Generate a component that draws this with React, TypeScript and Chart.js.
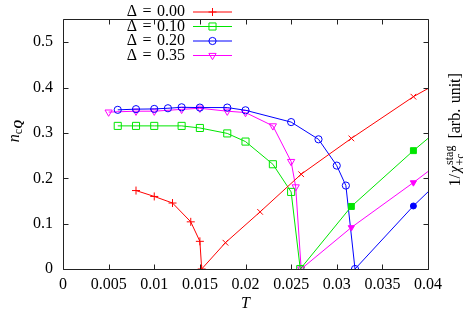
import React, { useEffect, useRef } from 'react';
import { Chart, registerables } from 'chart.js';
import { drawPoint } from 'chart.js/helpers';

Chart.register(...registerables);

// ---- axis ticks ----
const xTickValues = [0, 0.005, 0.01, 0.015, 0.02, 0.025, 0.03, 0.035, 0.04];
const xTickLabels = ['0', '0.005', '0.01', '0.015', '0.02', '0.025', '0.03', '0.035', '0.04'];
const yTickValues = [0, 0.1, 0.2, 0.3, 0.4, 0.5];
const yTickLabels = ['0', '0.1', '0.2', '0.3', '0.4', '0.5'];

// ---- legend labels ----
const seriesLabels = ['Δ = 0.00', 'Δ = 0.10', 'Δ = 0.20', 'Δ = 0.35'];

// ---- n_cQ vs T (left axis) ----
const tD000 = [0.008, 0.010, 0.012, 0.014, 0.015, 0.0152];
const nD000 = [0.173, 0.160, 0.1455, 0.104, 0.061, 0];
const tD010 = [0.006, 0.008, 0.010, 0.013, 0.015, 0.018, 0.020, 0.023, 0.025, 0.026];
const nD010 = [0.3156, 0.3156, 0.3156, 0.3156, 0.311, 0.299, 0.281, 0.231, 0.170, 0];
const tD020 = [0.006, 0.008, 0.010, 0.0115, 0.013, 0.015, 0.018, 0.020, 0.025, 0.028, 0.030, 0.031, 0.032];
const nD020 = [0.351, 0.3525, 0.353, 0.3545, 0.3566, 0.356, 0.356, 0.350, 0.324, 0.286, 0.228, 0.184, 0];
const tD035 = [0.005, 0.008, 0.010, 0.013, 0.015, 0.018, 0.020, 0.023, 0.025, 0.0255, 0.0261];
const nD035 = [0.346, 0.348, 0.348, 0.352, 0.3545, 0.348, 0.345, 0.3156, 0.237, 0.181, 0];

// ---- 1/chi_stag vs T (right axis, arb. unit) ----
const tChiD000 = [0.0152, 0.0178, 0.0216, 0.0261, 0.0316, 0.0384, 0.04];
const chiD000 = [0, 0.058, 0.126, 0.209, 0.288, 0.380, 0.398];
const tChiD010 = [0.026, 0.0316, 0.0384, 0.04];
const chiD010 = [0, 0.138, 0.261, 0.288];
const tChiD020 = [0.032, 0.0384, 0.04];
const chiD020 = [0, 0.139, 0.170];
const tChiD035 = [0.0261, 0.0316, 0.0384, 0.04];
const chiD035 = [0, 0.0916, 0.1906, 0.215];

const RED = '#ff0000';
const GREEN = '#00e600';
const BLUE = '#0000ff';
const MAGENTA = '#ff00ff';
const FONT = 'Liberation Serif';
const FS = 16;

const zip = (xs: number[], ys: number[]) => xs.map((x, i) => ({ x, y: ys[i] }));

type MarkerStyle = { pointStyle: string; radius: number; rotation: number; filled: boolean };
const leftMarkers: MarkerStyle[] = [
  { pointStyle: 'cross', radius: 4, rotation: 0, filled: false },
  { pointStyle: 'rect', radius: 5, rotation: 0, filled: false },
  { pointStyle: 'circle', radius: 3.6, rotation: 0, filled: false },
  { pointStyle: 'triangle', radius: 4.2, rotation: 180, filled: false },
];
const rightMarkers: MarkerStyle[] = [
  { pointStyle: 'crossRot', radius: 4, rotation: 0, filled: true },
  { pointStyle: 'rect', radius: 4.2, rotation: 0, filled: true },
  { pointStyle: 'circle', radius: 3, rotation: 0, filled: true },
  { pointStyle: 'triangle', radius: 3.6, rotation: 180, filled: true },
];
const colors = [RED, GREEN, BLUE, MAGENTA];

function leftDataset(i: number, xs: number[], ys: number[]) {
  const m = leftMarkers[i];
  return {
    label: seriesLabels[i],
    data: zip(xs, ys),
    yAxisID: 'y',
    borderColor: colors[i],
    backgroundColor: colors[i],
    borderWidth: 1,
    pointStyle: m.pointStyle,
    pointRadius: m.radius,
    pointRotation: m.rotation,
    pointBorderColor: colors[i],
    pointBackgroundColor: 'rgba(0,0,0,0)',
    pointBorderWidth: 1,
    tension: 0,
    showLine: true,
  };
}

function rightDataset(i: number, xs: number[], ys: number[]) {
  const m = rightMarkers[i];
  const n = xs.length;
  return {
    label: seriesLabels[i] + ' (1/χ)',
    data: zip(xs, ys),
    yAxisID: 'y2',
    borderColor: colors[i],
    backgroundColor: colors[i],
    borderWidth: 1,
    pointStyle: m.pointStyle,
    pointRadius: (ctx: any) => (ctx.dataIndex === 0 || ctx.dataIndex === n - 1 ? 0 : m.radius),
    pointRotation: m.rotation,
    pointBorderColor: colors[i],
    pointBackgroundColor: colors[i],
    pointBorderWidth: 1,
    tension: 0,
    showLine: true,
  };
}

const decorPlugin = {
  id: 'decor',
  afterDatasetsDraw(chart: any) {
    const { ctx, chartArea } = chart;
    const x = chart.scales.x;
    const y = chart.scales.y;
    const L = Math.floor(chartArea.left) + 0.5;
    const R = Math.floor(chartArea.right) + 0.5;
    const T = Math.floor(chartArea.top) + 0.5;
    const B = Math.floor(chartArea.bottom) + 0.5;
    const tl = 5;
    ctx.save();
    ctx.strokeStyle = '#222';
    ctx.lineWidth = 1;
    ctx.beginPath();
    ctx.rect(L, T, R - L, B - T);
    xTickValues.forEach((v) => {
      const px = Math.round(x.getPixelForValue(v)) + 0.5;
      ctx.moveTo(px, B);
      ctx.lineTo(px, B - tl);
      ctx.moveTo(px, T);
      ctx.lineTo(px, T + tl);
    });
    yTickValues.forEach((v) => {
      const py = Math.round(y.getPixelForValue(v)) + 0.5;
      ctx.moveTo(L, py);
      ctx.lineTo(L + tl, py);
      ctx.moveTo(R, py);
      ctx.lineTo(R - tl, py);
    });
    ctx.stroke();
    ctx.restore();
  },
  afterDraw(chart: any) {
    const { ctx, chartArea } = chart;
    ctx.save();
    // ---- legend ----
    const rowsY = [12, 26.5, 41, 55.5];
    const textRight = 185;
    const sx0 = 193;
    const sx1 = 232;
    seriesLabels.forEach((lab, i) => {
      const yy = rowsY[i];
      ctx.fillStyle = '#000';
      ctx.font = `${FS}px "${FONT}"`;
      (ctx as any).wordSpacing = '1.5px';
      ctx.textAlign = 'right';
      ctx.textBaseline = 'middle';
      ctx.fillText(lab, textRight, yy);
      (ctx as any).wordSpacing = '0px';
      ctx.strokeStyle = colors[i];
      ctx.lineWidth = 1;
      ctx.beginPath();
      ctx.moveTo(sx0, yy);
      ctx.lineTo(sx1, yy);
      ctx.stroke();
      const m = leftMarkers[i];
      ctx.fillStyle = 'rgba(0,0,0,0)';
      drawPoint(ctx, { pointStyle: m.pointStyle as any, radius: m.radius, rotation: m.rotation, borderWidth: 1 } as any, (sx0 + sx1) / 2, yy);
    });

    // ---- x title ----
    ctx.fillStyle = '#000';
    ctx.textAlign = 'center';
    ctx.textBaseline = 'middle';
    ctx.font = `italic ${FS}px "${FONT}"`;
    ctx.fillText('T', (chartArea.left + chartArea.right) / 2, 304);

    // ---- left y title: n_{cQ} ----
    {
      const main = `italic ${FS}px "${FONT}"`;
      const sub = `12px "${FONT}"`;
      const subB = `bold italic 12px "${FONT}"`;
      ctx.font = main; const wN = ctx.measureText('n').width;
      ctx.font = sub; const wC = ctx.measureText('c').width;
      ctx.font = subB; const wQ = ctx.measureText('Q').width;
      const total = wN + wC + wQ + 0.5;
      ctx.save();
      ctx.translate(18.5, 131);
      ctx.rotate(-Math.PI / 2);
      ctx.textAlign = 'left';
      ctx.textBaseline = 'alphabetic';
      let cx = -total / 2;
      ctx.font = main; ctx.fillText('n', cx, 0); cx += wN;
      ctx.font = sub; ctx.fillText('c', cx, 3); cx += wC + 0.5;
      ctx.font = subB; ctx.fillText('Q', cx, 3);
      ctx.restore();
    }

    // ---- right y title: 1/χ^{stag}_{+c} [arb. unit] ----
    {
      const main = `${FS}px "${FONT}"`;
      const ital = `italic ${FS}px "${FONT}"`;
      const scr = `12px "${FONT}"`;
      ctx.font = main; const w1 = ctx.measureText('1/').width;
      ctx.font = ital; const wChi = ctx.measureText('χ').width;
      ctx.font = scr; const wSup = ctx.measureText('stag').width; const wSub = ctx.measureText('+c').width;
      const wS = Math.max(wSup, wSub) + 2;
      ctx.font = main;
      (ctx as any).wordSpacing = '1.5px';
      const wRest = ctx.measureText(' [arb. unit]').width;
      (ctx as any).wordSpacing = '0px';
      const total = w1 + 1 + wChi + wS + wRest;
      ctx.save();
      ctx.translate(459.5, 130);
      ctx.rotate(-Math.PI / 2);
      ctx.textAlign = 'left';
      ctx.textBaseline = 'alphabetic';
      let cx = -total / 2;
      ctx.font = main; ctx.fillText('1/', cx, 0); cx += w1 + 1;
      ctx.font = ital; ctx.fillText('χ', cx, 0); cx += wChi + 0.5;
      ctx.font = scr; ctx.fillText('stag', cx + 0.5, -7); ctx.fillText('+c', cx, 4); cx += wS;
      ctx.font = main; (ctx as any).wordSpacing = '1.5px'; ctx.fillText(' [arb. unit]', cx, 0);
      (ctx as any).wordSpacing = '0px';
      ctx.restore();
    }
    ctx.restore();
  },
};

export default function App() {
  const canvasRef = useRef<HTMLCanvasElement | null>(null);

  useEffect(() => {
    document.body.style.margin = '0';
    const canvas = canvasRef.current;
    if (!canvas) return;
    const tickFont = { family: FONT, size: FS };
    const chart = new Chart(canvas, {
      type: 'scatter',
      data: {
        datasets: [
          rightDataset(0, tChiD000, chiD000),
          rightDataset(1, tChiD010, chiD010),
          rightDataset(2, tChiD020, chiD020),
          rightDataset(3, tChiD035, chiD035),
          leftDataset(0, tD000, nD000),
          leftDataset(1, tD010, nD010),
          leftDataset(2, tD020, nD020),
          leftDataset(3, tD035, nD035),
        ] as any,
      },
      options: {
        animation: false,
        responsive: true,
        maintainAspectRatio: false,
        layout: { padding: { top: 1, left: 0, right: 0, bottom: 0 } },
        plugins: { legend: { display: false }, tooltip: { enabled: false } },
        scales: {
          x: {
            type: 'linear',
            min: 0,
            max: 0.04,
            afterBuildTicks: (s: any) => { s.ticks = xTickValues.map((v) => ({ value: v })); },
            afterFit: (s: any) => { s.height = 42; },
            ticks: {
              font: tickFont,
              color: '#000',
              padding: 6,
              maxRotation: 0,
              autoSkip: false,
              callback: (v: any) => xTickLabels[xTickValues.findIndex((t) => Math.abs(t - v) < 1e-9)] ?? '',
            },
            grid: { display: false, drawTicks: false },
            border: { display: false },
          },
          y: {
            type: 'linear',
            position: 'left',
            min: 0,
            max: 0.55,
            afterBuildTicks: (s: any) => { s.ticks = yTickValues.map((v) => ({ value: v })); },
            afterFit: (s: any) => { s.width = 63; },
            ticks: {
              font: tickFont,
              color: '#000',
              padding: 10,
              callback: (v: any) => yTickLabels[yTickValues.findIndex((t) => Math.abs(t - v) < 1e-9)] ?? '',
            },
            grid: { display: false, drawTicks: false },
            border: { display: false },
          },
          y2: {
            type: 'linear',
            position: 'right',
            min: 0,
            max: 0.55,
            afterFit: (s: any) => { s.width = 35; },
            ticks: { display: false },
            grid: { display: false, drawTicks: false },
            border: { display: false },
          },
        },
      } as any,
      plugins: [decorPlugin],
    });
    return () => chart.destroy();
  }, []);

  return (
    <div style={{ position: 'fixed', left: 0, top: 0, width: 463, height: 311, background: '#fff' }}>
      <canvas ref={canvasRef} />
    </div>
  );
}
